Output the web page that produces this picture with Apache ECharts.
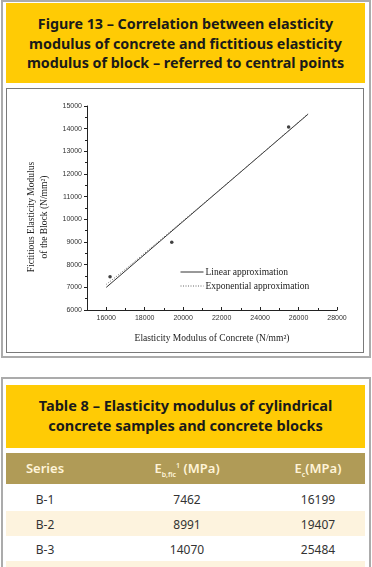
<!DOCTYPE html>
<html><head><meta charset="utf-8">
<script src="https://cdn.jsdelivr.net/npm/echarts@6/dist/echarts.min.js"></script>
<style>
html,body{margin:0;padding:0;background:#fff;width:372px;height:567px;overflow:hidden;}
.abs{position:absolute;box-sizing:border-box;}
.outer{border:2px solid #ababab;}
.yellow{background:#FFCB05;color:#1a1a1a;font-family:"Noto Sans",sans-serif;font-weight:bold;text-align:center;white-space:nowrap;}
.cell{position:absolute;font-family:"Noto Sans",sans-serif;font-size:12px;color:#333;text-align:center;transform:translateX(-50%);white-space:nowrap;}
.hcell{position:absolute;font-family:"Noto Sans",sans-serif;font-size:13px;color:#FFF4D8;font-weight:600;text-align:center;transform:translateX(-50%);white-space:nowrap;}
</style></head>
<body>
<div class="abs outer" style="left:1px;top:0px;width:370px;height:358px;"></div>
<div class="abs yellow" style="left:6px;top:3px;width:359px;height:80px;font-size:14.3px;line-height:19.5px;padding-top:11px;" id="figTitle"></div>
<div class="abs" style="left:6px;top:88px;width:358px;height:265px;border:1px solid #7a7a7a;"></div>
<div class="abs" id="chart" style="left:7px;top:89px;width:356px;height:263px;"></div>

<div class="abs outer" style="left:1px;top:377px;width:370px;height:200px;"></div>
<div class="abs yellow" style="left:6px;top:385px;width:359px;height:63px;font-size:14.5px;line-height:19.5px;padding-top:11px;" id="tabTitle"></div>
<div class="abs" style="left:6px;top:453px;width:359px;height:31px;background:#B09B57;"></div>
<div class="abs" style="left:6px;top:511px;width:359px;height:25px;background:#FDF3DE;"></div>
<div class="abs" style="left:6px;top:561px;width:359px;height:10px;background:#FDF3DE;"></div>
<div id="table"></div>

<script>
// ---- data ----
const figureTitle = ["Figure 13 – Correlation between elasticity","modulus of concrete and fictitious elasticity","modulus of block – referred to central points"];
const tableTitle = ["Table 8 – Elasticity modulus of cylindrical","concrete samples and concrete blocks"];
const seriesNames = ["B-1","B-2","B-3"];
const ebFic = [7462, 8991, 14070];     // fictitious elasticity modulus of block (MPa)
const ec = [16199, 19407, 25484];      // elasticity modulus of concrete (MPa)
const linearX = [16000, 26500];
const linearY = [6998, 14641];
const expX = [16000, 17000, 18000, 19000, 20000, 22000, 24000, 26500];
const expY = [7130, 7800, 8510, 9220, 9940, 11380, 12830, 14660];
const xLabelValues = [16000, 18000, 20000, 22000, 24000, 26000, 28000];
const xMinorValues = [15000, 17000, 19000, 21000, 23000, 25000, 27000];

document.getElementById('figTitle').innerHTML = figureTitle.join('<br>');
document.getElementById('tabTitle').innerHTML = tableTitle.join('<br>');

// table
const colX = [45, 187, 318];
let html = '';
html += `<div class="hcell" style="left:${colX[0]}px;top:459px;">Series</div>`;
html += `<div class="hcell" style="left:${colX[1]}px;top:459px;">E<sub style="font-size:7px;">b,fic</sub><sup style="font-size:7px;">1</sup> (MPa)</div>`;
html += `<div class="hcell" style="left:${colX[2]}px;top:459px;">E<sub style="font-size:7px;">c</sub>(MPa)</div>`;
const rowTop = [491, 516, 541];
seriesNames.forEach((s, i) => {
  html += `<div class="cell" style="left:${colX[0]}px;top:${rowTop[i]}px;">${s}</div>`;
  html += `<div class="cell" style="left:${colX[1]}px;top:${rowTop[i]}px;">${ebFic[i]}</div>`;
  html += `<div class="cell" style="left:${colX[2]}px;top:${rowTop[i]}px;">${ec[i]}</div>`;
});
document.getElementById('table').innerHTML = html;

// chart
const chart = echarts.init(document.getElementById('chart'));
const serif = '"Liberation Serif", serif';
const sans = '"Liberation Sans", Arial, sans-serif';
const plain = v => String(v);
chart.setOption({
  animation: false,
  grid: {left: 80, top: 17, right: 26, bottom: 42},
  legend: {
    left: 168, top: 173, orient: 'vertical', itemWidth: 23, itemHeight: 8, itemGap: 4,
    itemStyle: {opacity: 0},
    lineStyle: {width: 1},
    textStyle: {fontFamily: serif, fontSize: 9.5, color: '#222', padding: [0,0,0,-3]},
    data: ['Linear approximation', 'Exponential approximation']
  },
  xAxis: [{
    type: 'value', min: 15000, max: 28000,
    name: 'Elasticity Modulus of Concrete (N/mm²)', nameLocation: 'middle', nameGap: 23,
    nameTextStyle: {fontFamily: serif, fontSize: 9.5, color: '#222'},
    axisLine: {lineStyle: {color: '#222', width: 1}},
    axisTick: {show: true, inside: true, length: 3, customValues: xLabelValues, lineStyle: {color: '#222'}},
    axisLabel: {customValues: xLabelValues, formatter: plain, fontFamily: sans, fontSize: 7, color: '#333', margin: 5},
    splitLine: {show: false}
  }, {
    type: 'value', min: 15000, max: 28000, position: 'bottom',
    axisLine: {show: false},
    axisTick: {show: true, inside: true, length: 2, customValues: xMinorValues, lineStyle: {color: '#222'}},
    axisLabel: {show: false, customValues: xMinorValues},
    splitLine: {show: false}
  }],
  yAxis: {
    type: 'value', min: 6000, max: 15000, interval: 1000,
    name: 'Fictitious Elasticity Modulus\nof the Block (N/mm²)', nameLocation: 'middle', nameGap: 36,
    nameTextStyle: {fontFamily: serif, fontSize: 9.5, color: '#222', lineHeight: 13, padding: [0,0,0,-18]},
    axisLine: {lineStyle: {color: '#222', width: 1}},
    axisTick: {show: true, inside: false, length: 3, lineStyle: {color: '#222'}},
    minorTick: {show: true, splitNumber: 2, length: 2, lineStyle: {color: '#222'}},
    axisLabel: {formatter: plain, fontFamily: sans, fontSize: 7, color: '#333', margin: 5},
    splitLine: {show: false}
  },
  series: [
    {name: 'Data', type: 'scatter', symbolSize: 3.5, itemStyle: {color: '#111'},
     data: ec.map((x, i) => [x, ebFic[i]])},
    {name: 'Linear approximation', type: 'line', symbol: 'none', lineStyle: {color: '#333', width: 1},
     data: linearX.map((x, i) => [x, linearY[i]])},
    {name: 'Exponential approximation', type: 'line', symbol: 'none', smooth: true,
     lineStyle: {color: '#666', width: 1, type: [1, 1.5]},
     data: expX.map((x, i) => [x, expY[i]])}
  ]
});
</script>
</body></html>
